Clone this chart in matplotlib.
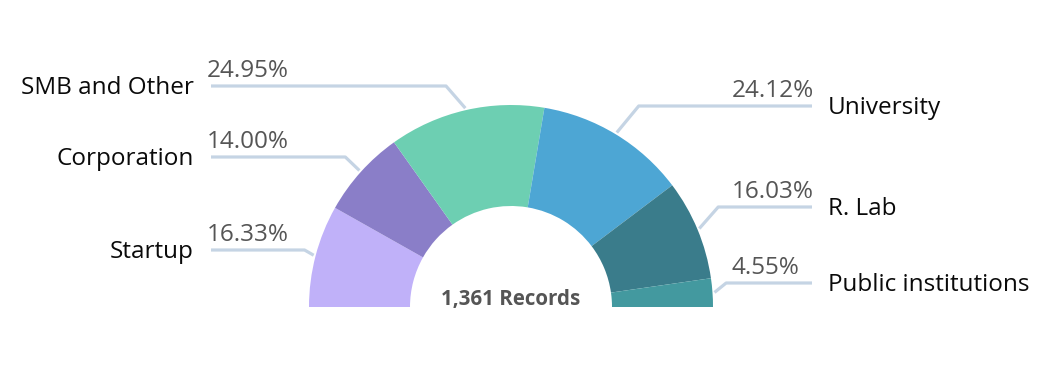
import matplotlib
matplotlib.use("Agg")
import matplotlib.pyplot as plt
import numpy as np

categories = ["Startup", "Corporation", "SMB and Other", "University", "R. Lab", "Public institutions"]
values = [16.33, 14.00, 24.95, 24.12, 16.03, 4.55]
pct_labels = ["16.33%", "14.00%", "24.95%", "24.12%", "16.03%", "4.55%"]
total_records = "1,361 Records"

colors = ["#c0b1f9", "#8a7ec8", "#6dcfb2", "#4da6d4", "#3a7c8b", "#43999f"]

W, H = 1054, 366
fig = plt.figure(figsize=(W / 100, H / 100), dpi=100)
ax = fig.add_axes([0, 0, 1, 1])

cx, cy = 511, H - 307
R_out, ring = 202, 101
total = sum(values)
wedges, _ = ax.pie(values + [total], colors=colors + ["none"], startangle=180,
                   counterclock=False, radius=R_out, center=(cx, cy),
                   wedgeprops=dict(width=ring, linewidth=0), frame=True)
wedges[-1].set_visible(False)
ax.set_xlim(0, W)
ax.set_ylim(0, H)
ax.set_aspect("equal")
ax.axis("off")

# label line y positions (pixel rows from top)
label_rows = [250, 157, 86, 106, 207, 283]
line_col = "#c5d4e4"
font = "Open Sans"
fs = 17.5
for w, cat, pct, row in zip(wedges[:-1], categories, pct_labels, label_rows):
    mid = np.deg2rad((w.theta1 + w.theta2) / 2)
    x0 = cx + (R_out + 2) * np.cos(mid)
    y0 = cy + (R_out + 2) * np.sin(mid)
    ly = H - row
    if np.cos(mid) < 0:
        xe = x0 - abs(ly - y0) * 0.6 - 6
        ax.plot([x0, xe, 211], [y0, ly, ly], color=line_col, lw=2.3,
                solid_capstyle="butt", zorder=1)
        ax.text(207, ly + 3, pct, ha="left", va="bottom", fontsize=fs, color="#555555", family=font)
        ax.text(194, ly - 2, cat, ha="right", va="center", fontsize=fs, color="#0a0a0a", family=font)
    else:
        xe = x0 + abs(ly - y0) * 0.6 + 6
        ax.plot([x0, xe, 812], [y0, ly, ly], color=line_col, lw=2.3,
                solid_capstyle="butt", zorder=1)
        ax.text(732, ly + 3, pct, ha="left", va="bottom", fontsize=fs, color="#555555", family=font)
        ax.text(828, ly - 2, cat, ha="left", va="center", fontsize=fs, color="#0a0a0a", family=font)

ax.text(cx, H - 299, total_records, ha="center", va="center", fontsize=14.8,
        fontweight="bold", color="#555555", family=font)

fig.savefig("out.png", dpi=100)
